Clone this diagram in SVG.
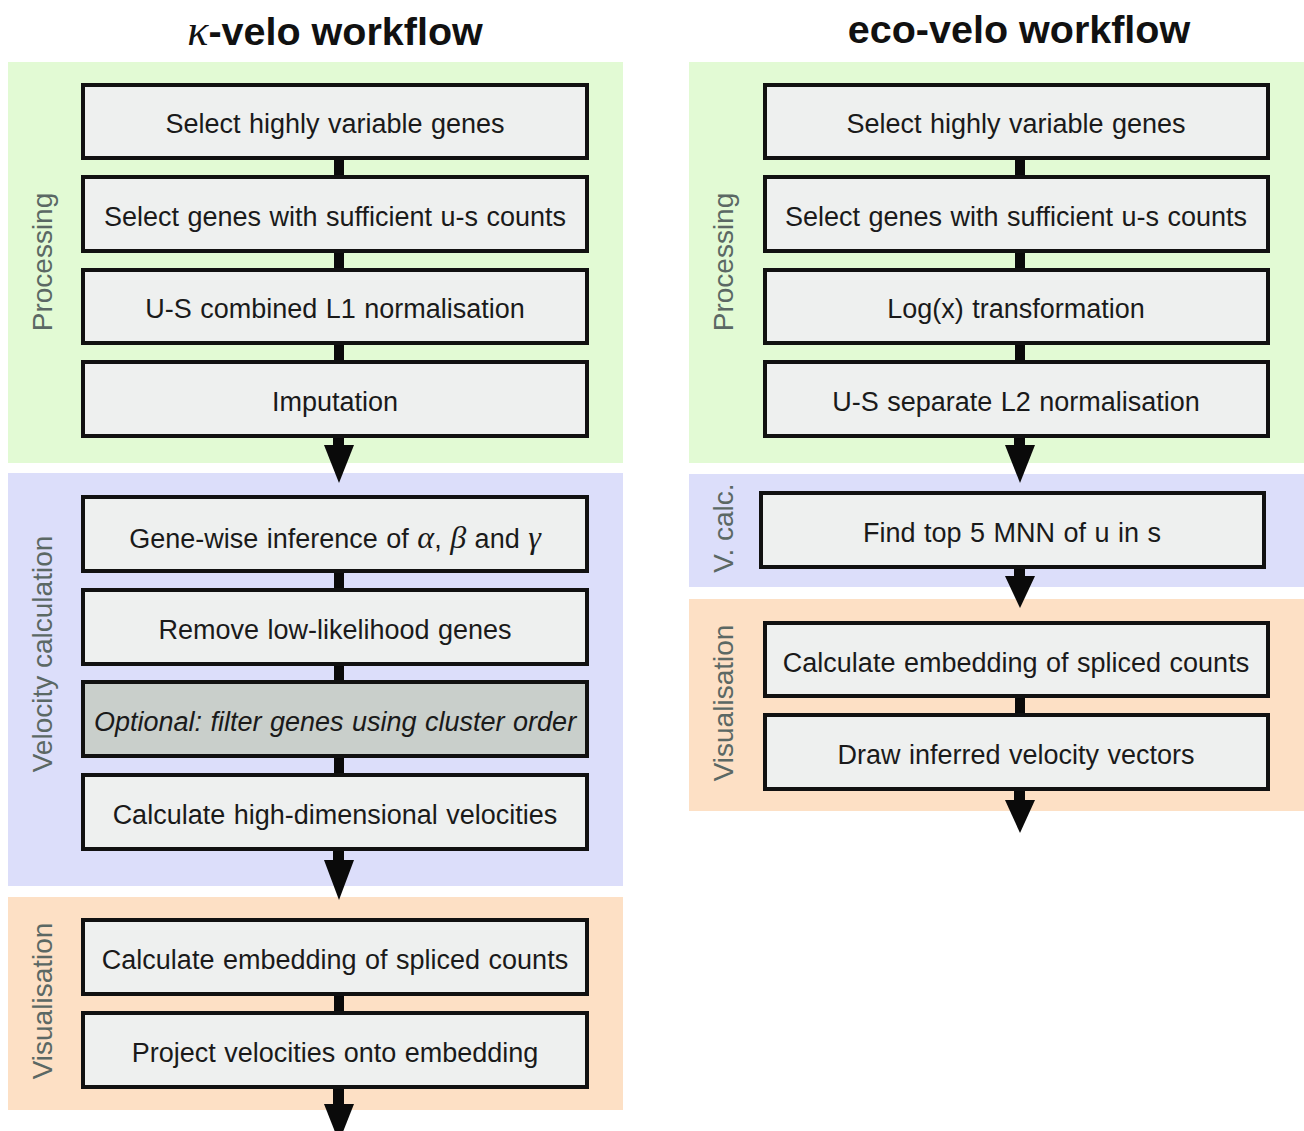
<svg xmlns="http://www.w3.org/2000/svg" width="1304" height="1131" viewBox="0 0 1304 1131">
  <style>
    .title { font-family: "Liberation Sans", Arial, sans-serif; font-weight: bold; font-size: 39.5px; fill: #111; text-anchor: middle; }
    .box { fill: #eef0ef; stroke: #111; stroke-width: 4; }
    .box.opt { fill: #c9cfcb; }
    .lbl { font-family: "Liberation Sans", Arial, sans-serif; font-size: 27px; word-spacing: 1px; fill: #1a1a1a; text-anchor: middle; }
    .lbl.it { font-style: italic; }
    .greek { font-family: "Liberation Serif", "Times New Roman", serif; font-style: italic; font-size: 32px; }
    .sec { font-family: "Liberation Sans", Arial, sans-serif; font-size: 28px; fill: #5b6864; text-anchor: middle; }
    .proc { fill: #e2fad4; }
    .velo { fill: #dcdefa; }
    .vis { fill: #fde0c5; }
    .conn { fill: #0a0a0a; }
  </style>

  <!-- column titles -->
  <text class="title" x="335" y="45"><tspan font-family="Liberation Serif, serif" font-style="italic" font-weight="normal" font-size="44px">κ</tspan>-velo workflow</text>
  <text class="title" x="1019" y="43">eco-velo workflow</text>

  <!-- stage panels -->
  <g id="panels">
    <rect class="proc" x="8" y="62" width="615" height="401"/>
    <rect class="velo" x="8" y="473" width="615" height="413"/>
    <rect class="vis" x="8" y="897" width="615" height="213"/>
    <rect class="proc" x="689" y="62" width="615" height="401"/>
    <rect class="velo" x="689" y="474" width="615" height="113"/>
    <rect class="vis" x="689" y="599" width="615" height="212"/>
  </g>

  <!-- stage labels -->
  <g id="stage-labels">
    <text class="sec" transform="translate(52 262) rotate(-90)">Processing</text>
    <text class="sec" transform="translate(52 654) rotate(-90)">Velocity calculation</text>
    <text class="sec" transform="translate(52 1001) rotate(-90)">Visualisation</text>
    <text class="sec" transform="translate(733 262) rotate(-90)">Processing</text>
    <text class="sec" transform="translate(733 528) rotate(-90)">V. calc.</text>
    <text class="sec" transform="translate(733 703) rotate(-90)">Visualisation</text>
  </g>

  <!-- connectors -->
  <g id="connectors">
    <!-- kappa-velo -->
    <rect class="conn" x="334" y="158" width="10" height="19"/>
    <rect class="conn" x="334" y="251" width="10" height="19"/>
    <rect class="conn" x="334" y="343" width="10" height="19"/>
    <rect class="conn" x="333" y="436" width="11" height="11"/>
    <polygon class="conn" points="324,445 354,445 339,483"/>
    <rect class="conn" x="334" y="571" width="10" height="19"/>
    <rect class="conn" x="334" y="664" width="10" height="18"/>
    <rect class="conn" x="334" y="756" width="10" height="19"/>
    <rect class="conn" x="333" y="849" width="11" height="13"/>
    <polygon class="conn" points="324,860 354,860 339,900"/>
    <rect class="conn" x="334" y="994" width="10" height="19"/>
    <rect class="conn" x="333" y="1087" width="11" height="19"/>
    <polygon class="conn" points="324,1104 354,1104 339,1142"/>
    <!-- eco-velo -->
    <rect class="conn" x="1015" y="158" width="10" height="19"/>
    <rect class="conn" x="1015" y="251" width="10" height="19"/>
    <rect class="conn" x="1015" y="343" width="10" height="19"/>
    <rect class="conn" x="1014" y="436" width="11" height="11"/>
    <polygon class="conn" points="1005,445 1035,445 1020,483"/>
    <rect class="conn" x="1014" y="567" width="11" height="11"/>
    <polygon class="conn" points="1005,576 1035,576 1020,608"/>
    <rect class="conn" x="1015" y="696" width="10" height="19"/>
    <rect class="conn" x="1014" y="789" width="11" height="13"/>
    <polygon class="conn" points="1005,800 1035,800 1020,833"/>
  </g>

  <!-- kappa-velo steps -->
  <g id="k-hvg"><rect class="box" x="83" y="85" width="504" height="73"/><text class="lbl" x="335" y="133">Select highly variable genes</text></g>
  <g id="k-us"><rect class="box" x="83" y="177" width="504" height="74"/><text class="lbl" x="335" y="226">Select genes with sufficient u-s counts</text></g>
  <g id="k-norm"><rect class="box" x="83" y="270" width="504" height="73"/><text class="lbl" x="335" y="318">U-S combined L1 normalisation</text></g>
  <g id="k-imp"><rect class="box" x="83" y="362" width="504" height="74"/><text class="lbl" x="335" y="411">Imputation</text></g>
  <g id="k-infer"><rect class="box" x="83" y="497" width="504" height="74"/><text class="lbl" x="335" y="548">Gene-wise inference of <tspan class="greek">α</tspan>, <tspan class="greek">β</tspan> and <tspan class="greek">γ</tspan></text></g>
  <g id="k-lowlik"><rect class="box" x="83" y="590" width="504" height="74"/><text class="lbl" x="335" y="639">Remove low-likelihood genes</text></g>
  <g id="k-opt"><rect class="box opt" x="83" y="682" width="504" height="74"/><text class="lbl it" x="335" y="731">Optional: filter genes using cluster order</text></g>
  <g id="k-hdvel"><rect class="box" x="83" y="775" width="504" height="74"/><text class="lbl" x="335" y="824">Calculate high-dimensional velocities</text></g>
  <g id="k-embed"><rect class="box" x="83" y="920" width="504" height="74"/><text class="lbl" x="335" y="969">Calculate embedding of spliced counts</text></g>
  <g id="k-proj"><rect class="box" x="83" y="1013" width="504" height="74"/><text class="lbl" x="335" y="1062">Project velocities onto embedding</text></g>

  <!-- eco-velo steps -->
  <g id="e-hvg"><rect class="box" x="765" y="85" width="503" height="73"/><text class="lbl" x="1016" y="133">Select highly variable genes</text></g>
  <g id="e-us"><rect class="box" x="765" y="177" width="503" height="74"/><text class="lbl" x="1016" y="226">Select genes with sufficient u-s counts</text></g>
  <g id="e-log"><rect class="box" x="765" y="270" width="503" height="73"/><text class="lbl" x="1016" y="318">Log(x) transformation</text></g>
  <g id="e-norm"><rect class="box" x="765" y="362" width="503" height="74"/><text class="lbl" x="1016" y="411">U-S separate L2 normalisation</text></g>
  <g id="e-mnn"><rect class="box" x="761" y="493" width="503" height="74"/><text class="lbl" x="1012" y="542">Find top 5 MNN of u in s</text></g>
  <g id="e-embed"><rect class="box" x="765" y="623" width="503" height="73"/><text class="lbl" x="1016" y="672">Calculate embedding of spliced counts</text></g>
  <g id="e-draw"><rect class="box" x="765" y="715" width="503" height="74"/><text class="lbl" x="1016" y="764">Draw inferred velocity vectors</text></g>
</svg>
